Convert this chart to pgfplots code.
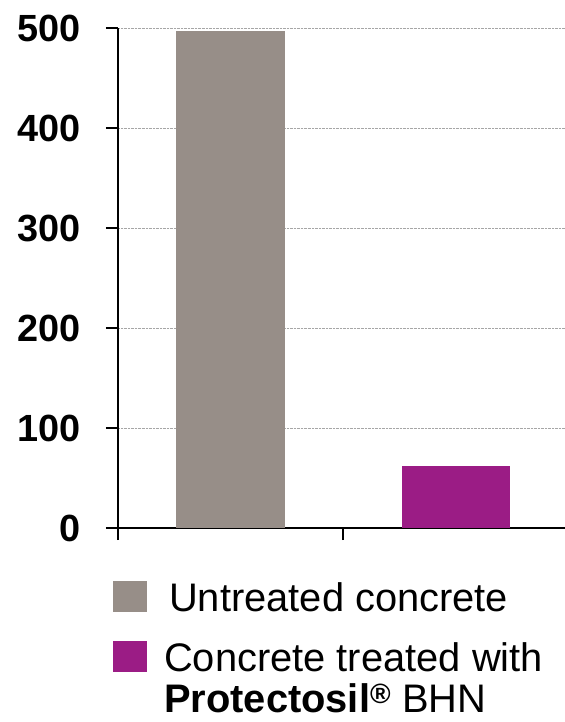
\documentclass[border=0pt]{standalone}
\usepackage{fontspec}
\setmainfont{Liberation Sans}
\usepackage{pgfplots}
\pgfplotsset{compat=1.18}

\definecolor{untreated}{RGB}{151,142,136}
\definecolor{treated}{RGB}{155,28,133}

\begin{document}
\begin{tikzpicture}
\useasboundingbox (-118bp,-194bp) rectangle (447bp,528bp);
\begin{axis}[
    scale only axis,
    width=450bp,
    height=500bp,
    xmin=0.5, xmax=2.5,
    ymin=0, ymax=500,
    axis lines=left,
    axis line style={-, line width=1.3bp},
    xtick={0.5,1.5,2.5},
    xticklabels={},
    ytick={0,100,200,300,400,500},
    tick align=outside,
    major tick length=12bp,
    tick style={black, line width=1.3bp},
    ymajorgrids,
    major grid style={densely dotted, gray!70, line width=0.6bp},
    /pgf/number format/assume math mode=true,
    yticklabel style={font=\fontsize{38}{38}\selectfont\bfseries, xshift=-22bp},
    legend style={
        at={(axis description cs:0,0)}, anchor=north west,
        xshift=-5bp, yshift=-52bp,
        draw=none, fill=none, inner sep=0pt,
        font=\fontsize{40}{41}\selectfont,
        row sep=26bp,
        cells={anchor=west},
    },
    legend cell align=left,
    legend image code/.code={
        \fill[#1] (3bp,-14.5bp) rectangle (37bp,16.5bp);
        \path (52bp,0bp);
    },
]
\addplot[ybar, bar width=108bp, bar shift=0pt, fill=untreated, draw=none] coordinates {(1,497)};
\addlegendentry{\hspace{5bp}Untreated concrete}
\addplot[ybar, bar width=108bp, bar shift=0pt, fill=treated, draw=none] coordinates {(2,62)};
\addlegendentry{\vtop{\hbox{Concrete treated with}\hbox{\textbf{Protectosil\textsuperscript{®}} BHN}}}
\end{axis}
\end{tikzpicture}
\end{document}
